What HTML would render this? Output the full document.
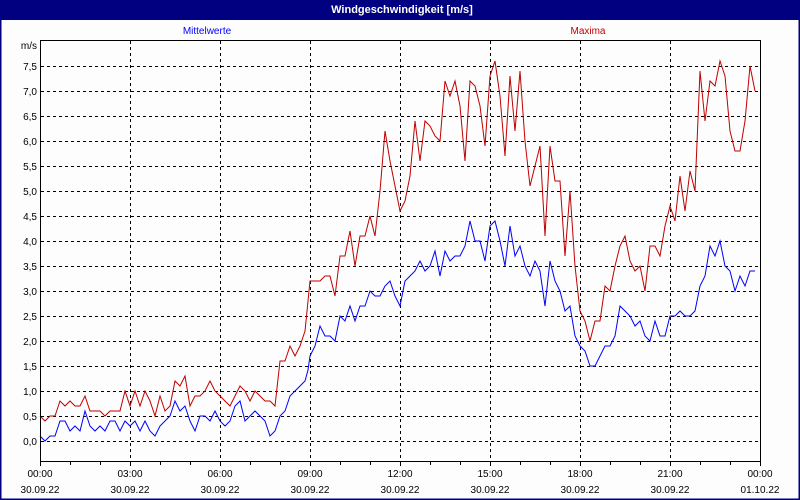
<!DOCTYPE html>
<html><head><meta charset="utf-8"><style>
html,body{margin:0;padding:0;background:#fcfdfc;}
svg{display:block;font-family:"Liberation Sans","DejaVu Sans",sans-serif;}
</style></head><body>
<svg width="800" height="500" viewBox="0 0 800 500" xmlns="http://www.w3.org/2000/svg">
<rect x="0" y="0" width="800" height="500" fill="#fcfdfc"/>
<rect x="0" y="0" width="800" height="20" fill="#000080"/>
<rect x="0.5" y="0.5" width="799" height="499" fill="none" stroke="#000080" stroke-width="2"/>
<text x="402" y="13" font-size="11" font-weight="bold" fill="#fff" text-anchor="middle">Windgeschwindigkeit [m/s]</text>
<text x="207" y="34" font-size="10" fill="#0000ff" text-anchor="middle">Mittelwerte</text>
<text x="588" y="34" font-size="10" fill="#c00000" text-anchor="middle">Maxima</text>
<text x="37" y="49" font-size="10" fill="#000" text-anchor="end">m/s</text>
<g stroke="#000" stroke-width="1" stroke-dasharray="3,3" fill="none">
<path d="M41 441.5H760M41 416.5H760M41 391.5H760M41 366.5H760M41 341.5H760M41 316.5H760M41 291.5H760M41 266.5H760M41 241.5H760M41 216.5H760M41 191.5H760M41 166.5H760M41 141.5H760M41 116.5H760M41 91.5H760M41 66.5H760"/>
<path d="M130.5 41V461M220.5 41V461M310.5 41V461M400.5 41V461M490.5 41V461M580.5 41V461M670.5 41V461"/>
</g>
<g font-size="10" fill="#000" text-anchor="end">
<text x="37" y="445">0,0</text><text x="37" y="420">0,5</text><text x="37" y="395">1,0</text><text x="37" y="370">1,5</text><text x="37" y="345">2,0</text><text x="37" y="320">2,5</text><text x="37" y="295">3,0</text><text x="37" y="270">3,5</text><text x="37" y="245">4,0</text><text x="37" y="220">4,5</text><text x="37" y="195">5,0</text><text x="37" y="170">5,5</text><text x="37" y="145">6,0</text><text x="37" y="120">6,5</text><text x="37" y="95">7,0</text><text x="37" y="70">7,5</text>
</g>
<polyline fill="none" stroke="#0000ff" stroke-width="1" points="40,436 45,441 50,436 55,436 60,421 65,421 70,431 75,426 80,431 85,411 90,426 95,431 100,426 105,431 110,421 115,421 120,431 125,421 130,426 135,421 140,431 145,421 150,431 155,436 160,426 165,421 170,416 175,401 180,411 185,406 190,421 195,431 200,416 205,416 210,421 215,411 220,421 225,426 230,421 235,406 240,401 245,421 250,416 255,411 260,416 265,421 270,436 275,431 280,416 285,411 290,396 295,391 300,386 305,381 308,370 310,356 315,346 320,326 325,336 330,336 335,341 340,316 345,321 350,306 355,321 360,306 365,306 370,291 375,296 380,296 385,286 390,281 395,296 400,306 405,281 410,276 415,271 420,261 425,271 430,266 435,251 440,276 445,251 450,261 455,256 460,256 465,246 470,221 475,241 480,241 485,261 490,226 495,221 500,241 505,266 510,226 515,256 520,246 525,266 530,276 535,261 540,271 545,306 550,261 555,281 560,291 565,311 570,306 575,336 580,346 585,351 590,366 595,366 600,356 605,346 610,346 615,336 620,306 625,311 630,316 635,326 640,321 645,336 650,341 655,321 660,336 665,336 670,316 675,316 680,311 685,316 690,316 695,311 700,286 705,276 710,246 715,256 720,241 725,266 730,271 735,291 740,276 745,286 750,271 755,271"/>
<polyline fill="none" stroke="#c00000" stroke-width="1" points="40,416 45,421 50,416 55,416 60,401 65,406 70,401 75,406 80,406 85,396 90,411 95,411 100,411 105,416 110,411 115,411 120,411 125,391 130,406 135,391 140,406 145,391 150,401 155,416 160,396 165,411 170,406 175,381 180,386 185,376 190,406 195,396 200,396 205,391 210,381 215,391 220,396 225,401 230,406 235,396 240,386 245,391 250,401 255,391 260,396 265,401 270,401 275,406 280,361 285,361 290,346 295,356 300,346 305,331 310,281 315,281 320,281 325,276 330,276 335,296 340,256 345,256 350,231 355,266 360,236 365,236 370,216 375,236 380,191 385,131 390,161 395,186 400,211 405,201 410,176 415,121 420,161 425,121 430,126 435,136 440,141 445,81 450,96 455,81 460,106 465,161 470,81 475,86 480,106 485,146 490,76 495,61 500,96 505,156 510,76 515,131 520,71 525,141 530,186 535,166 540,146 545,236 550,146 555,181 560,181 565,256 570,191 575,266 580,311 585,321 590,341 595,321 600,321 605,286 610,291 615,266 620,246 625,236 630,261 635,271 640,266 645,291 650,246 655,246 660,256 665,226 670,206 675,221 680,176 685,211 690,171 695,191 700,71 705,121 710,81 715,86 720,61 725,76 730,131 735,151 740,151 745,121 750,66 755,91"/>
<path d="M40.5 40V461.5H760.5V40.5H40" fill="none" stroke="#000" stroke-width="1"/>
<g stroke="#000" stroke-width="1">
<path d="M40.5 461V466M70.5 461V465M100.5 461V465M130.5 461V466M160.5 461V465M190.5 461V465M220.5 461V466M250.5 461V465M280.5 461V465M310.5 461V466M340.5 461V465M370.5 461V465M400.5 461V466M430.5 461V465M460.5 461V465M490.5 461V466M520.5 461V465M550.5 461V465M580.5 461V466M610.5 461V465M640.5 461V465M670.5 461V466M700.5 461V465M730.5 461V465M760.5 461V466"/>
</g>
<g font-size="10" fill="#000" text-anchor="middle">
<text x="40" y="477">00:00</text><text x="40" y="493">30.09.22</text>
<text x="130" y="477">03:00</text><text x="130" y="493">30.09.22</text>
<text x="220" y="477">06:00</text><text x="220" y="493">30.09.22</text>
<text x="310" y="477">09:00</text><text x="310" y="493">30.09.22</text>
<text x="400" y="477">12:00</text><text x="400" y="493">30.09.22</text>
<text x="490" y="477">15:00</text><text x="490" y="493">30.09.22</text>
<text x="580" y="477">18:00</text><text x="580" y="493">30.09.22</text>
<text x="670" y="477">21:00</text><text x="670" y="493">30.09.22</text>
<text x="760" y="477">00:00</text><text x="760" y="493">01.10.22</text>
</g>
</svg>
</body></html>
